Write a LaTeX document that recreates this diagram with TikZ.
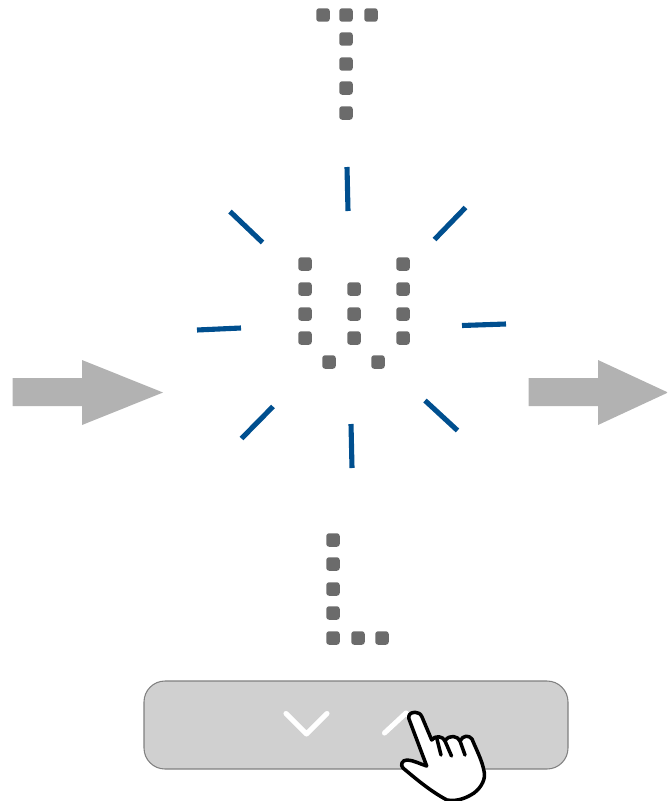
\documentclass[tikz,border=0pt]{standalone}
\usepackage{xcolor}
\definecolor{dotgray}{HTML}{6B6B6B}
\definecolor{raybluecol}{HTML}{004F8F}
\definecolor{arrowgray}{HTML}{B2B2B2}
\definecolor{panelgray}{HTML}{D0D0D0}
\tikzset{
	dot/.style = {fill=dotgray, rounded corners=1.6pt, minimum size=0.27cm, inner sep=0pt, outer sep=0pt},
	ray/.style = {draw=raybluecol, line width=2.9pt},
	bigarrow/.style = {fill=arrowgray, draw=none},
	chevron/.style = {draw=white, line width=2.9pt, line cap=round, line join=round},
	handline/.style = {draw=black, line width=2pt, line cap=round, line join=round}
}
\begin{document}
\begin{tikzpicture}[x=0.02cm, y=-0.02cm]
		\useasboundingbox (0,0) rectangle (667,801);
		\clip (0,0) rectangle (667,801);

		% top letter
		\node[dot] (t1) at (323,15) {};
		\node[dot] (t2) at (346,15) {};
		\node[dot] (t3) at (371,15) {};
		\node[dot] (t4) at (346,39) {};
		\node[dot] (t5) at (346,64) {};
		\node[dot] (t6) at (346,88) {};
		\node[dot] (t7) at (346,113) {};

		% middle letter
		\node[dot] (m1) at (305,264) {};
		\node[dot] (m2) at (403,264) {};
		\node[dot] (m3) at (305,289) {};
		\node[dot] (m4) at (354,289) {};
		\node[dot] (m5) at (403,289) {};
		\node[dot] (m6) at (305,314) {};
		\node[dot] (m7) at (354,314) {};
		\node[dot] (m8) at (403,314) {};
		\node[dot] (m9) at (305,338) {};
		\node[dot] (m10) at (354,338) {};
		\node[dot] (m11) at (403,338) {};
		\node[dot] (m12) at (329,362) {};
		\node[dot] (m13) at (378,362) {};

		% bottom letter
		\node[dot] (b1) at (333,540) {};
		\node[dot] (b2) at (333,564) {};
		\node[dot] (b3) at (333,589) {};
		\node[dot] (b4) at (333,613) {};
		\node[dot] (b5) at (333,638) {};
		\node[dot] (b6) at (358,638) {};
		\node[dot] (b7) at (382,638) {};

		% rays
		\draw[ray] (347,167) -- (348,211);
		\draw[ray] (465.5,207.5) -- (434.5,239.5);
		\draw[ray] (506,324) -- (462,325.5);
		\draw[ray] (457.5,430.5) -- (425,400.5);
		\draw[ray] (351,424) -- (352,468);
		\draw[ray] (241.5,438.5) -- (273,406.5);
		\draw[ray] (197,330) -- (241,328);
		\draw[ray] (230,211.5) -- (262.5,242.5);

		% side arrows
		\fill[bigarrow] (12.5,378) -- (82,378) -- (82,360) -- (163,392.5) -- (82,425) -- (82,406) -- (12.5,406) -- cycle;
		\fill[bigarrow] (528.5,378) -- (598,378) -- (598,360) -- (668,392.5) -- (598,425) -- (598,406) -- (528.5,406) -- cycle;

		% button panel
		\draw[fill=panelgray, draw=gray, line width=0.6pt, rounded corners=0.42cm] (144,681) rectangle (568,769);
		\draw[chevron] (286,713.5) -- (306.5,734) -- (327,713.5);
		\draw[chevron] (384.5,733) -- (406,713) -- (428,734);

		% hand
		\draw[handline, fill=white] (415,712.3)
			.. controls (410,712.5) and (408,715) .. (409,719)
			-- (426.7,766)
			.. controls (420,764) and (413,760) .. (407,760)
			.. controls (402,760) and (400,765) .. (403,768)
			.. controls (415,778) and (430,791) .. (447,800)
			.. controls (458,802) and (468,797) .. (474,793)
			.. controls (482,787) and (486,778) .. (484,771)
			.. controls (482,760) and (476,749) .. (472,739)
			.. controls (469,735) and (463,735) .. (460,741)
			.. controls (458,736) and (449,734) .. (445,741)
			.. controls (443,736) and (435,735) .. (431.7,740)
			-- (422,717)
			.. controls (420.5,713.5) and (418,712.3) .. (415,712.3) -- cycle;
		\draw[handline] (436.7,738) -- (441,755);
		\draw[handline] (445,741) -- (451.5,756);
		\draw[handline] (460,741) -- (465,755);
	\end{tikzpicture}
\end{document}
